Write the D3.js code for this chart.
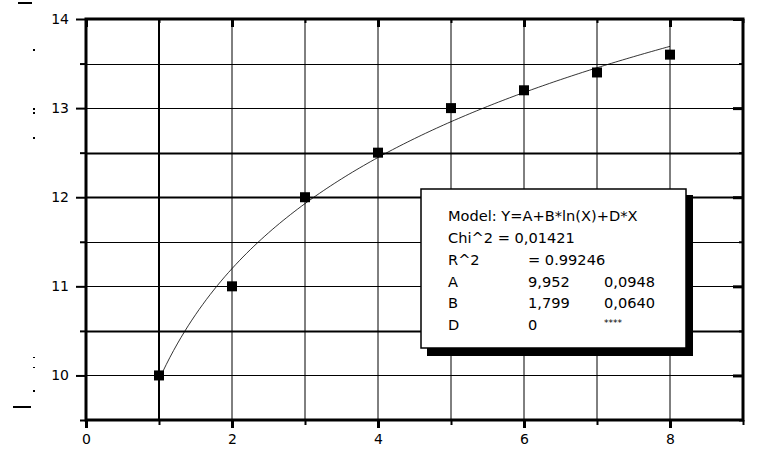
<!DOCTYPE html>
<html>
<head>
<meta charset="utf-8">
<script src="https://cdn.jsdelivr.net/npm/d3@7/dist/d3.min.js"></script>
<style>
  html, body { margin: 0; padding: 0; background: #fff; }
  svg { display: block; }
  text { font-family: "DejaVu Sans", sans-serif; fill: #000; }
</style>
</head>
<body>
<svg id="chart" width="773" height="450"></svg>
<script>
// ---- data ----
const xValues = [1, 2, 3, 4, 5, 6, 7, 8];
const yValues = [10, 11, 12, 12.5, 13, 13.2, 13.4, 13.6];
const xTicks = [0, 2, 4, 6, 8];
const xMinorTicks = [1, 3, 5, 7, 9];
const yTicks = [10, 11, 12, 13, 14];
const yMinorTicks = [9.5, 10.5, 11.5, 12.5, 13.5];
const fitParams = [9.952, 1.799, 0]; // A, B, D
const legendLines = [
  ["Model: Y=A+B*ln(X)+D*X", "", ""],
  ["Chi^2 = 0,01421", "", ""],
  ["R^2", "=  0.99246", ""],
  ["A", "9,952", "0,0948"],
  ["B", "1,799", "0,0640"],
  ["D", "0", "****"]
];

// ---- layout ----
const svg = d3.select("#chart");
const x = d3.scaleLinear().domain([0, 9]).range([86, 743]);
const y = d3.scaleLinear().domain([9.5, 14]).range([420, 19]);
const thickV = [1];
const thickH = [10.5, 12, 12.5];

// grid
const grid = svg.append("g");
grid.selectAll("line.v").data(d3.range(1, 9)).join("line")
  .attr("x1", d => x(d)).attr("x2", d => x(d))
  .attr("y1", y(14)).attr("y2", y(9.5))
  .attr("stroke", "#000")
  .attr("stroke-width", d => thickV.includes(d) ? 2 : 1);
grid.selectAll("line.h").data(d3.range(10, 14, 0.5)).join("line")
  .attr("y1", d => Math.round(y(d)) + 0.5).attr("y2", d => Math.round(y(d)) + 0.5)
  .attr("x1", x(0)).attr("x2", x(9))
  .attr("stroke", "#000")
  .attr("stroke-width", d => thickH.includes(d) ? 2 : 1);

// axes
function styleAxis(g, w) {
  g.select(".domain").remove();
  g.selectAll(".tick line").attr("stroke", "#000").attr("stroke-width", w);
  g.selectAll("text").style("font-size", "14px").style("font-family", "DejaVu Sans, sans-serif");
}
const H = 420, T = 19, L = 86, R = 743;
svg.append("g").attr("transform", `translate(0,${H})`)
  .call(d3.axisBottom(x).tickValues(xTicks).tickSize(8).tickPadding(6).tickFormat(d3.format("d")))
  .call(g => styleAxis(g, 3));
svg.append("g").attr("transform", `translate(0,${H})`)
  .call(d3.axisBottom(x).tickValues(xMinorTicks).tickSize(5).tickFormat(""))
  .call(g => styleAxis(g, 2));
svg.append("g").attr("transform", `translate(${L},0)`)
  .call(d3.axisLeft(y).tickValues(yTicks).tickSize(10).tickPadding(7).tickFormat(d3.format("d")))
  .call(g => styleAxis(g, 2));
svg.append("g").attr("transform", `translate(${L},0)`)
  .call(d3.axisLeft(y).tickValues(yMinorTicks).tickSize(6).tickFormat(""))
  .call(g => styleAxis(g, 2));
// top (inward)
svg.append("g").attr("transform", `translate(0,${T})`)
  .call(d3.axisTop(x).tickValues(xTicks).tickSize(-8).tickFormat(""))
  .call(g => styleAxis(g, 3));
svg.append("g").attr("transform", `translate(0,${T})`)
  .call(d3.axisTop(x).tickValues(xMinorTicks).tickSize(-4).tickFormat(""))
  .call(g => styleAxis(g, 2));
// right (inward)
svg.append("g").attr("transform", `translate(${R},0)`)
  .call(d3.axisRight(y).tickValues(yTicks).tickSize(-10).tickFormat(""))
  .call(g => styleAxis(g, 3));
svg.append("g").attr("transform", `translate(${R},0)`)
  .call(d3.axisRight(y).tickValues(yMinorTicks).tickSize(-4).tickFormat(""))
  .call(g => styleAxis(g, 2));

// frame
svg.append("rect").attr("x", L).attr("y", T).attr("width", R - L).attr("height", H - T)
  .attr("fill", "none").attr("stroke", "#000").attr("stroke-width", 3);

// fit curve
const [A, B, D] = fitParams;
const fitX = d3.range(1, 8.0001, 0.05);
svg.append("path")
  .datum(fitX)
  .attr("fill", "none").attr("stroke", "#000").attr("stroke-width", 0.8)
  .attr("d", d3.line().x(d => x(d)).y(d => y(A + B * Math.log(d) + D * d)));

// points
const pts = xValues.map((v, i) => [v, yValues[i]]);
svg.append("g").selectAll("rect").data(pts).join("rect")
  .attr("x", d => x(d[0]) - 5).attr("y", d => y(d[1]) - 5)
  .attr("width", 10).attr("height", 10).attr("fill", "#000");

// legend box
const bx = 421, by = 189, bw = 265, bh = 159;
svg.append("rect").attr("x", bx + 6).attr("y", by + 6).attr("width", bw + 1).attr("height", bh + 2).attr("fill", "#000");
svg.append("rect").attr("x", bx).attr("y", by).attr("width", bw).attr("height", bh)
  .attr("fill", "#fff").attr("stroke", "#000").attr("stroke-width", 1.5);
const colX = [448, 528, 604];
const rowY = [221, 243, 265, 287, 308, 330];
const lg = svg.append("g");
legendLines.forEach((row, i) => {
  row.forEach((t, j) => {
    if (!t) return;
    const isStar = t === "****";
    lg.append("text")
      .attr("x", colX[j]).attr("y", isStar ? rowY[i] - 4 : rowY[i])
      .style("font-size", isStar ? "9px" : "14.6px")
      .text(t);
  });
});

// remnants of cut-off axis title on the far left
const marks = [[18, 2, 14, 2], [33, 49, 2, 2], [33, 108, 2, 2], [33, 112, 2, 2], [33, 137, 2, 2],
               [33, 357, 2, 1], [33, 367, 2, 1], [33, 390, 2, 2], [13, 406, 18, 2]];
svg.append("g").selectAll("rect").data(marks).join("rect")
  .attr("x", d => d[0]).attr("y", d => d[1]).attr("width", d => d[2]).attr("height", d => d[3])
  .attr("fill", "#000");
</script>
</body>
</html>
